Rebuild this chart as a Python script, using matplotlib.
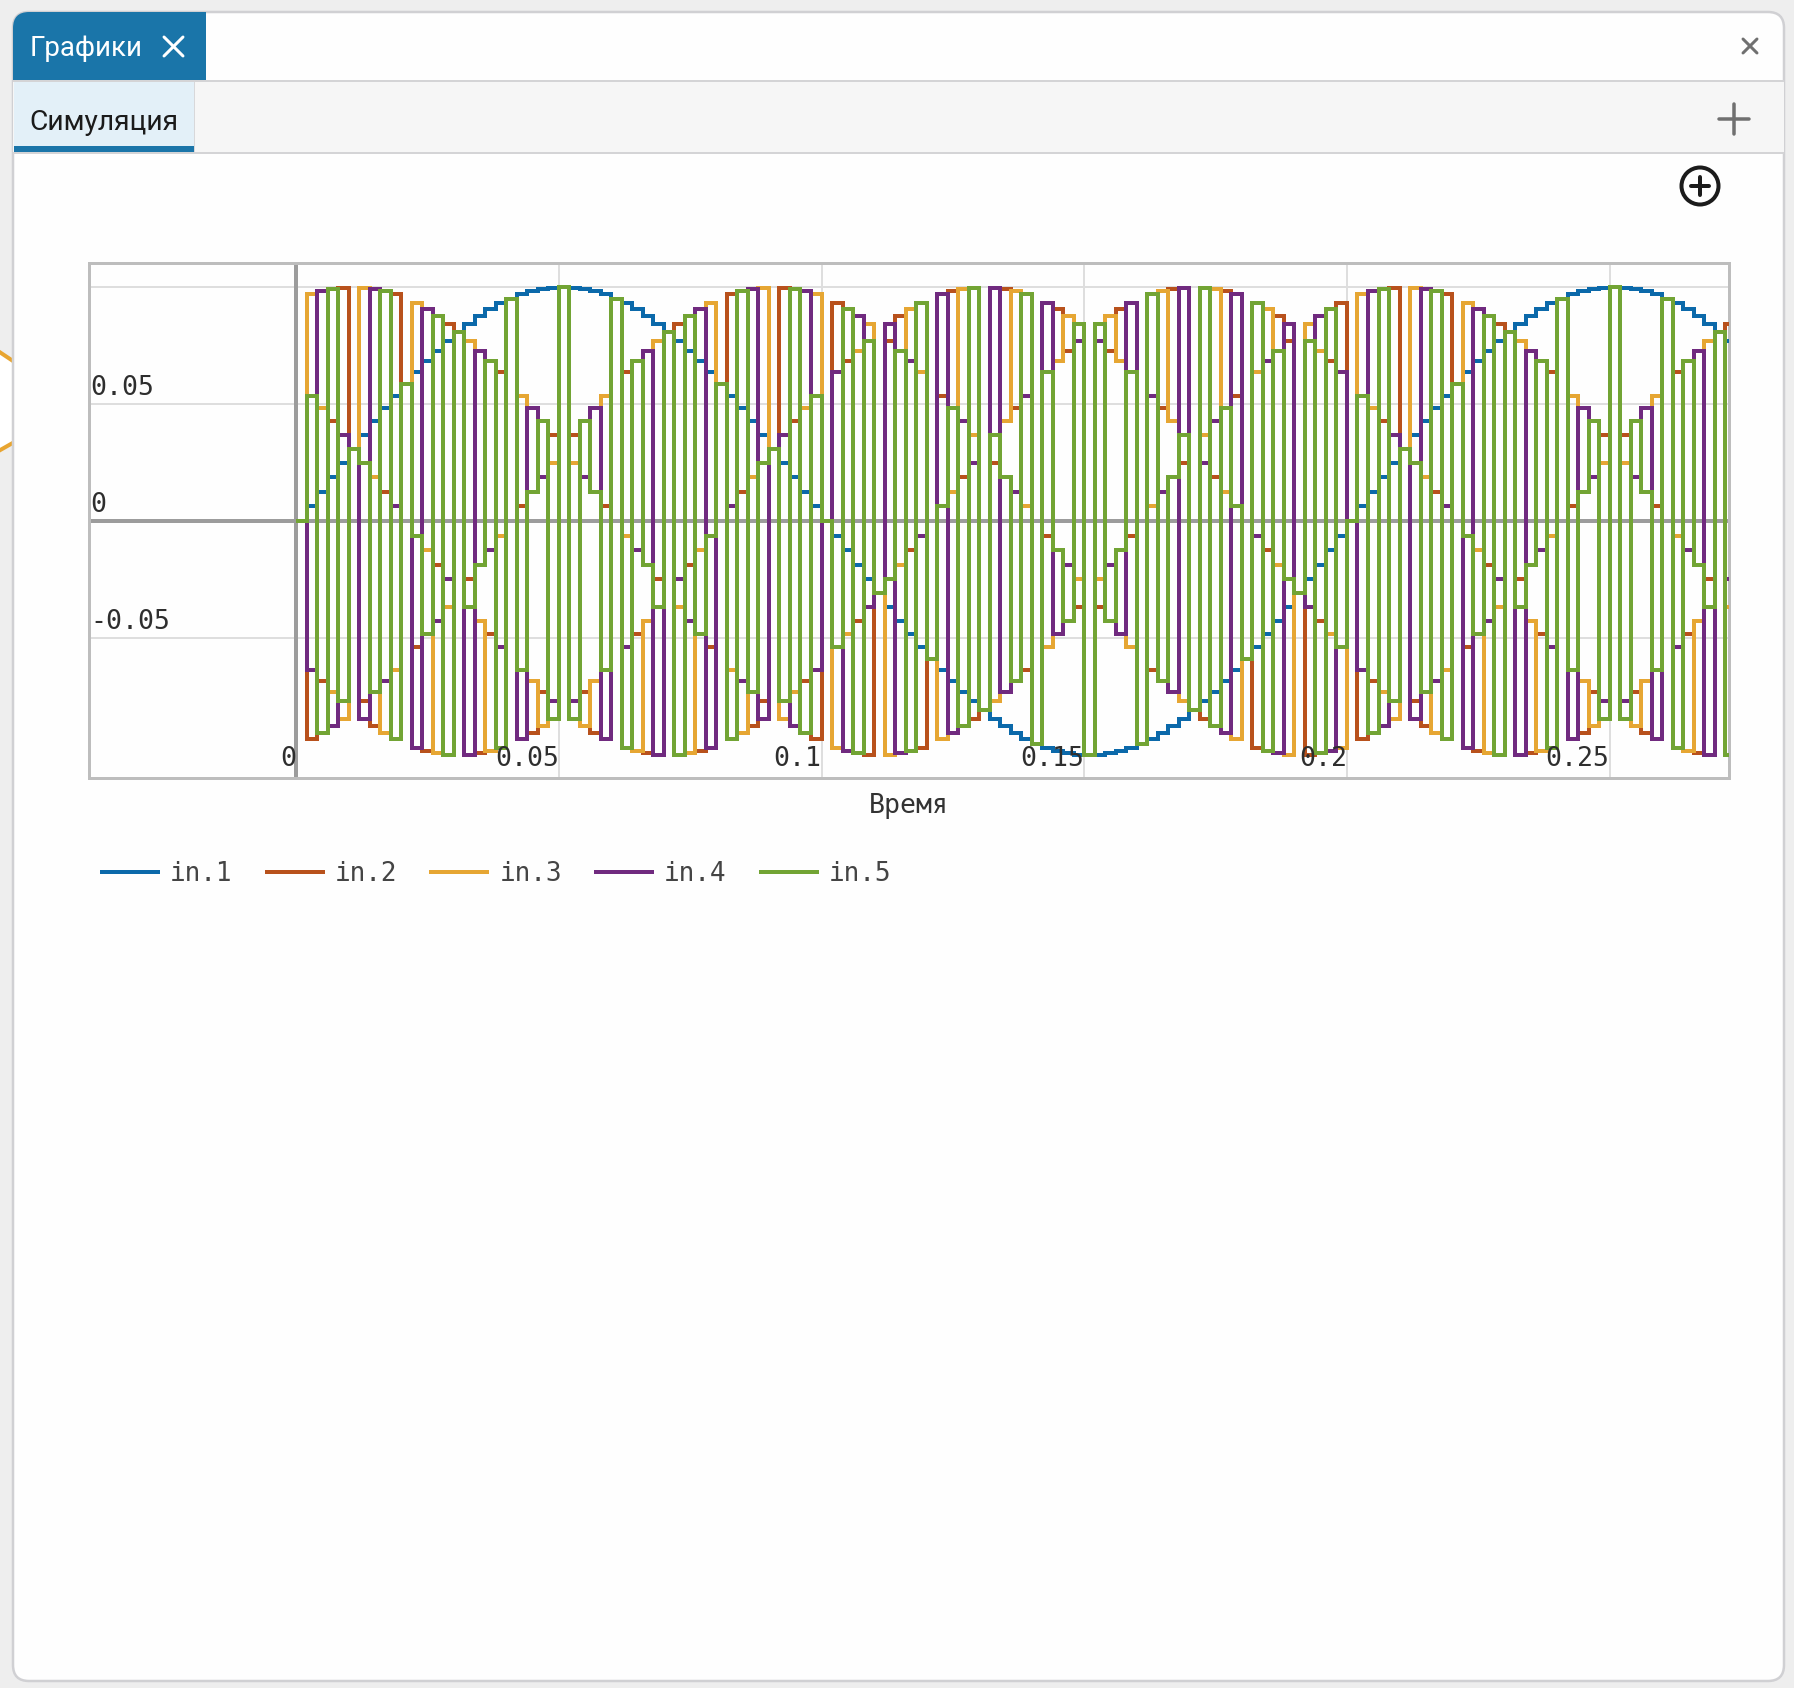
import numpy as np
import matplotlib
matplotlib.use("Agg")
import matplotlib.pyplot as plt
from matplotlib.patches import FancyBboxPatch, Rectangle, Polygon, Circle
from matplotlib.transforms import ScaledTranslation

# Sample values in units of 1e-4, one per 0.002 s step
in_1 = [0,63,125,187,249,309,368,426,482,536,588,637,685,729,771,809,844,876,905,930,951,969,982,992,998,1000,
        998,992,982,969,951,930,905,876,844,809,771,729,685,637,588,536,482,426,368,309,249,187,125,63,0,
        -63,-125,-187,-249,-309,-368,-426,-482,-536,-588,-637,-685,-729,-771,-809,-844,-876,-905,-930,-951,-969,-982,-992,-998,-1000,
        -998,-992,-982,-969,-951,-930,-905,-876,-844,-809,-771,-729,-685,-637,-588,-536,-482,-426,-368,-309,-249,-187,-125,-63,0,
        63,125,187,249,309,368,426,482,536,588,637,685,729,771,809,844,876,905,930,951,969,982,992,998,1000,
        998,992,982,969,951,930,905,876,844,809,771,729]
in_2 = [0,-930,-685,426,998,309,-771,-876,125,969,588,-536,-982,-187,844,809,-249,-992,-482,637,951,63,-905,-729,368,1000,
        368,-729,-905,63,951,637,-482,-992,-249,809,844,-187,-982,-536,588,969,125,-876,-771,309,998,426,-685,-930,0,
        930,685,-426,-998,-309,771,876,-125,-969,-588,536,982,187,-844,-809,249,992,482,-637,-951,-63,905,729,-368,-1000,
        -368,729,905,-63,-951,-637,482,992,249,-809,-844,187,982,536,-588,-969,-125,876,771,-309,-998,-426,685,930,0,
        -930,-685,426,998,309,-771,-876,125,969,588,-536,-982,-187,844,809,-249,-992,-482,637,951,63,-905,-729,368,1000,
        368,-729,-905,63,951,637,-482,-992,-249,809,844,-187]
in_3 = [0,969,482,-729,-844,309,998,187,-905,-637,588,930,-125,-992,-368,809,771,-426,-982,-63,951,536,-685,-876,249,1000,
        249,-876,-685,536,951,-63,-982,-426,771,809,-368,-992,-125,930,588,-637,-905,187,998,309,-844,-729,482,969,0,
        -969,-482,729,844,-309,-998,-187,905,637,-588,-930,125,992,368,-809,-771,426,982,63,-951,-536,685,876,-249,-1000,
        -249,876,685,-536,-951,63,982,426,-771,-809,368,992,125,-930,-588,637,905,-187,-998,-309,844,729,-482,-969,0,
        969,482,-729,-844,309,998,187,-905,-637,588,930,-125,-992,-368,809,771,-426,-982,-63,951,536,-685,-876,249,1000,
        249,-876,-685,536,951,-63,-982,-426,771,809,-368,-992]
in_4 = [0,-637,982,-876,368,309,-844,992,-685,63,588,-969,905,-426,-249,809,-998,729,-125,-536,951,-930,482,187,-771,1000,
        -771,187,482,-930,951,-536,-125,729,-998,809,-249,-426,905,-969,588,63,-685,992,-844,309,368,-876,982,-637,0,
        637,-982,876,-368,-309,844,-992,685,-63,-588,969,-905,426,249,-809,998,-729,125,536,-951,930,-482,-187,771,-1000,
        771,-187,-482,930,-951,536,125,-729,998,-809,249,426,-905,969,-588,-63,685,-992,844,-309,-368,876,-982,637,0,
        -637,982,-876,368,309,-844,992,-685,63,588,-969,905,-426,-249,809,-998,729,-125,-536,951,-930,482,187,-771,1000,
        -771,187,482,-930,951,-536,-125,729,-998,809,-249,-426]
in_5 = [0,536,-905,992,-771,309,249,-729,982,-930,588,-63,-482,876,-998,809,-368,-187,685,-969,951,-637,125,426,-844,1000,
        -844,426,125,-637,951,-969,685,-187,-368,809,-998,876,-482,-63,588,-930,982,-729,249,309,-771,992,-905,536,0,
        -536,905,-992,771,-309,-249,729,-982,930,-588,63,482,-876,998,-809,368,187,-685,969,-951,637,-125,-426,844,-1000,
        844,-426,-125,637,-951,969,-685,187,368,-809,998,-876,482,63,-588,930,-982,729,-249,-309,771,-992,905,-536,0,
        536,-905,992,-771,309,249,-729,982,-930,588,-63,-482,876,-998,809,-368,-187,685,-969,951,-637,125,426,-844,1000,
        -844,426,125,-637,951,-969,685,-187,-368,809,-998,876]
series_names = ["in.1", "in.2", "in.3", "in.4", "in.5"]
x_ticks = [0, 0.05, 0.1, 0.15, 0.2, 0.25]
x_tick_labels = ["0", "0.05", "0.1", "0.15", "0.2", "0.25"]
y_ticks = [-0.05, 0, 0.05, 0.1]
y_tick_labels = ["-0.05", "0", "0.05", ""]
x_label = "Время"
tab_title = "Графики"
sub_tab_title = "Симуляция"

W, H, DPI = 1794, 1688, 100
px = 72 / DPI
colors = ["#0B69AA", "#B8511C", "#E6A633", "#702A7F", "#72A434"]
MONO = "DejaVu Sans Mono"

fig = plt.figure(figsize=(W / DPI, H / DPI), dpi=DPI, facecolor="#EEEEEE")

# ---------- window chrome (pixel coordinates) ----------
bg = fig.add_axes([0, 0, 1, 1], zorder=0)
bg.set_xlim(0, W)
bg.set_ylim(H, 0)
bg.axis("off")

bg.add_patch(Polygon([(-5, 349), (25, 369), (25, 436), (-5, 453)], closed=True,
                     fc="white", ec="#E8A531", lw=4 * px, zorder=1))
panel = FancyBboxPatch((13, 12), 1771, 1669, boxstyle="round,pad=0,rounding_size=16",
                       fc="#FEFEFE", ec="#D0D0D3", lw=2.5 * px, zorder=2)
bg.add_patch(panel)


def clipped_rect(x, y, w, h, color, z=3):
    r = Rectangle((x, y), w, h, fc=color, ec="none", zorder=z)
    bg.add_patch(r)
    r.set_clip_path(panel)
    return r


clipped_rect(13, 81, 1771, 71, "#F6F6F6")
clipped_rect(13, 12, 193, 68, "#1A75A9", 4)
clipped_rect(14, 82, 180, 64, "#E3F0F8", 4)
clipped_rect(14, 146, 180, 6, "#1A75A9", 4)
clipped_rect(13, 80, 1771, 2, "#D4D4D6", 5)
clipped_rect(13, 152, 1771, 2, "#D4D4D6", 5)
clipped_rect(194, 82, 1, 70, "#D8D8DA", 5)

bg.text(30, 46, tab_title, color="white", family="Roboto", fontsize=27.6 * px,
        va="center_baseline", ha="left", zorder=6)
bg.text(29.5, 119, sub_tab_title, color="#1B1B1B", family="Roboto", fontsize=28.2 * px,
        va="center_baseline", ha="left", zorder=6)


def stroke(xs, ys, color, width):
    bg.plot(xs, ys, color=color, lw=width * px, solid_capstyle="round", zorder=6)


stroke([164, 183], [37, 56], "white", 3)
stroke([164, 183], [56, 37], "white", 3)
stroke([1743, 1757], [39, 53], "#707070", 3)
stroke([1743, 1757], [53, 39], "#707070", 3)
stroke([1719, 1749], [119, 119], "#707070", 3.5)
stroke([1734, 1734], [104, 134], "#707070", 3.5)
bg.add_patch(Circle((1700, 186), 18.5, fc="none", ec="#1B1B1B", lw=4 * px, zorder=6))
stroke([1691, 1709], [186, 186], "#1B1B1B", 4)
stroke([1700, 1700], [177, 195], "#1B1B1B", 4)

# ---------- chart ----------
left, right, top, bottom = 89, 1729, 263, 778
ax = fig.add_axes([left / W, 1 - bottom / H, (right - left) / W, (bottom - top) / H], zorder=2)
ax.set_facecolor("none")

time = np.arange(len(in_1)) * 0.002
for name, vals, col in zip(series_names, [in_1, in_2, in_3, in_4, in_5], colors):
    ax.plot(time, np.array(vals) * 1e-4, drawstyle="steps-post", color=col, lw=4 * px,
            solid_joinstyle="miter", solid_capstyle="butt", label=name, zorder=3)

ax.set_xlim(-0.0394, 0.2727)
ax.set_ylim(-0.1098, 0.1103)

ax.set_xticks(x_ticks, x_tick_labels)
ax.set_yticks(y_ticks, y_tick_labels)
for v in x_ticks[1:]:
    ax.axvline(v, color="#DEDEDE", lw=2 * px, zorder=0.5)
for v in y_ticks:
    if v != 0:
        ax.axhline(v, color="#DEDEDE", lw=2 * px, zorder=0.5)
ax.axhline(0, color="#9C9C9C", lw=4 * px, zorder=1)
ax.axvline(0, color="#9C9C9C", lw=4 * px, zorder=1)
for s in ax.spines.values():
    s.set_color("#BDBDBD")
    s.set_linewidth(3 * px)

ax.tick_params(axis="x", length=0, pad=-12 * px, labelsize=26.5 * px, labelcolor="#2E2E2E")
ax.tick_params(axis="y", length=0, pad=-1 * px, labelsize=26.5 * px, labelcolor="#2E2E2E")
y_off = ScaledTranslation(0, 9.5 / DPI, fig.dpi_scale_trans)
for lab in ax.get_xticklabels():
    lab.set(family=MONO, ha="right", va="baseline")
for lab in ax.get_yticklabels():
    lab.set(family=MONO, ha="left", va="baseline")
    lab.set_transform(lab.get_transform() + y_off)
ax.xaxis.set_zorder(5)
ax.yaxis.set_zorder(5)

ax.set_xlabel(x_label, family=MONO, fontsize=26.5 * px, color="#333333", labelpad=15 * px)

ax.legend(loc="upper left", bbox_to_anchor=(100 / W, 1 - 861 / H), bbox_transform=fig.transFigure,
          ncol=5, frameon=False, borderpad=0, borderaxespad=0,
          handlelength=2.31, handletextpad=0.38, columnspacing=1.24,
          prop={"family": MONO, "size": 26 * px}, labelcolor="#444444")

fig.savefig("out.png", dpi=DPI, facecolor=fig.get_facecolor())
